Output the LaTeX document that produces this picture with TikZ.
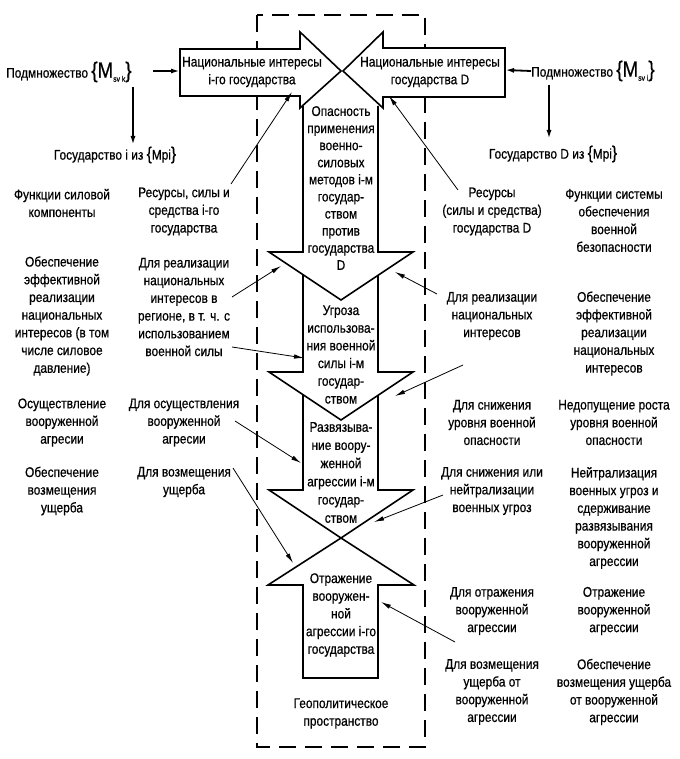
\documentclass[tikz,border=0pt]{standalone}
\usepackage{fontspec}
\setmainfont[FakeStretch=0.85,FakeBold=0.6]{Liberation Sans}
\usetikzlibrary{arrows.meta}
\begin{document}
\begin{tikzpicture}[x=1pt,y=-1pt,
  txt/.style={align=center, inner sep=0pt, font=\fontsize{14}{17.7}\selectfont},
  bigarrow/.style={draw, line width=1.6pt, fill=white, line join=miter},
  conn/.style={line width=0.8pt, -{Latex[length=10pt,width=4.5pt]}},
  thickarr/.style={line width=1.8pt, -{Latex[length=9pt,width=5pt]}},
  frame/.style={line width=2.2pt, dash pattern=on 17pt off 9pt}]
\useasboundingbox (0,0) rectangle (679,759);
% geopolitical space frame
\draw[frame] (257,15) rectangle (425,747);
% arrows from bottom to top
\path[bigarrow] (303,678) -- (303,585) -- (268,585) -- (341,538) -- (414,585) -- (378,585) -- (378,678) -- cycle;
\path[bigarrow] (303,385) -- (303,490) -- (269,490) -- (341,538) -- (413,490) -- (378,490) -- (378,385);
\path[bigarrow] (303,265) -- (303,372) -- (269,372) -- (341,420) -- (413,372) -- (378,372) -- (378,265);
\path[bigarrow] (303,106) -- (303,252) -- (269,252) -- (341,300) -- (413,252) -- (378,252) -- (378,106);
\path[bigarrow] (180,49) -- (300,49) -- (300,32) -- (341,71) -- (300,108) -- (300,96) -- (180,96) -- cycle;
\path[bigarrow] (505,48) -- (383,48) -- (383,32) -- (343,71) -- (383,108) -- (383,97) -- (505,97) -- cycle;
% texts in arrows
\node[txt] (niL) at (252,72) {Национальные интересы\\i-го государства};
\node[txt] (niR) at (430,72) {Национальные интересы\\государства D};
\node[txt, font=\fontsize{14}{17.1}\selectfont] (a1) at (341,188) {Опасность\\применения\\военно-\\силовых\\методов i-м\\государ-\\ством\\против\\государства\\D};
\node[txt] (a2) at (341,354.5) {Угроза\\использова-\\ния военной\\силы i-м\\государ-\\ством};
\node[txt, font=\fontsize{14}{18.2}\selectfont] (a3) at (341,472.5) {Развязыва-\\ние воору-\\женной\\агрессии i-м\\государ-\\ством};
\node[txt] (a4) at (341,615) {Отражение\\вооружен-\\ной\\агрессии i-го\\государства};
\node[txt] (geo) at (341,713.5) {Геополитическое\\пространство};
% subsets
\node[txt, anchor=west] (podL) at (6,72) {Подмножество {\fontsize{22}{22}\selectfont\{M}\raisebox{-4pt}{\fontsize{8}{8}\selectfont sv k}{\fontsize{22}{22}\selectfont\}}};
\node[txt, anchor=west] (podR) at (531,71) {Подмножество {\fontsize{22}{22}\selectfont\{M}\raisebox{-4pt}{\fontsize{8}{8}\selectfont sv i}{\fontsize{22}{22}\selectfont\}}};
\node[txt] (gosL) at (115,155) {Государство i из {\fontsize{18}{18}\selectfont\{}Mpi{\fontsize{18}{18}\selectfont\}}};
\node[txt] (gosR) at (553,154) {Государство D из {\fontsize{18}{18}\selectfont\{}Mpi{\fontsize{18}{18}\selectfont\}}};
\coordinate (boxL) at (180,71);
\coordinate (boxR) at (505,70);
\coordinate (vLs) at (133,87);
\coordinate (vLe) at (133,145);
\coordinate (vRs) at (549,85);
\coordinate (vRe) at (549,139);
\draw[thickarr] (153,71) -- (boxL);
\draw[thickarr] (podR.west) -- (boxR);
\draw[thickarr] (vLs) -- (vLe);
\draw[thickarr] (vRs) -- (vRe);
% left column
\node[txt] (fL1) at (62,203) {Функции силовой\\компоненты};
\node[txt] (fL2) at (62,316) {Обеспечение\\эффективной\\реализации\\национальных\\интересов (в том\\числе силовое\\давление)};
\node[txt] (fL3) at (62,422.5) {Осуществление\\вооруженной\\агресии};
\node[txt] (fL4) at (62,491) {Обеспечение\\возмещения\\ущерба};
% second column
\node[txt] (rL1) at (184,211.5) {Ресурсы, силы и\\средства i-го\\государства};
\node[txt] (rL2) at (184,307) {Для реализации\\национальных\\интересов в\\регионе, в т. ч. с\\использованием\\военной силы};
\node[txt] (rL3) at (184,422.5) {Для осуществления\\вооруженной\\агресии};
\node[txt] (rL4) at (184,482) {Для возмещения\\ущерба};
% right-middle column
\node[txt] (rR1) at (492,211.5) {Ресурсы\\(силы и средства)\\государства D};
\node[txt] (rR2) at (492,316) {Для реализации\\национальных\\интересов};
\node[txt] (rR3) at (492,422.5) {Для снижения\\уровня военной\\опасности};
\node[txt] (rR4) at (492,491) {Для снижения или\\нейтрализации\\военных угроз};
\node[txt] (rR5) at (492,611) {Для отражения\\вооруженной\\агрессии};
\node[txt] (rR6) at (492,692) {Для возмещения\\ущерба от\\вооруженной\\агрессии};
% right column
\node[txt] (fR1) at (614,220.5) {Функции системы\\обеспечения\\военной\\безопасности};
\node[txt] (fR2) at (614,333.5) {Обеспечение\\эффективной\\реализации\\национальных\\интересов};
\node[txt] (fR3) at (614,422.5) {Недопущение роста\\уровня военной\\опасности};
\node[txt] (fR4) at (614,518) {Нейтрализация\\военных угроз и\\сдерживание\\развязывания\\вооруженной\\агрессии};
\node[txt] (fR5) at (614,611) {Отражение\\вооруженной\\агрессии};
\node[txt] (fR6) at (614,692) {Обеспечение\\возмещения ущерба\\от вооруженной\\агрессии};
% connector ends
\coordinate (s1) at (231,184); \coordinate (e1) at (292,92);
\coordinate (s2) at (458,190); \coordinate (e2) at (389,96);
\coordinate (s3) at (232,297); \coordinate (e3) at (281,266);
\coordinate (s4) at (437,294); \coordinate (e4) at (395,272);
\coordinate (s5) at (232,347); \coordinate (e5) at (304,358);
\coordinate (s6) at (463,365); \coordinate (e6) at (395,396);
\coordinate (s7) at (235,421); \coordinate (e7) at (301,463);
\coordinate (s8) at (233,468); \coordinate (e8) at (293,563);
\coordinate (s9) at (443,495); \coordinate (e9) at (374,522);
\coordinate (s10) at (455,642); \coordinate (e10) at (381,602);
\foreach \i in {1,...,10} \draw[conn] (s\i) -- (e\i);
\end{tikzpicture}
\end{document}
